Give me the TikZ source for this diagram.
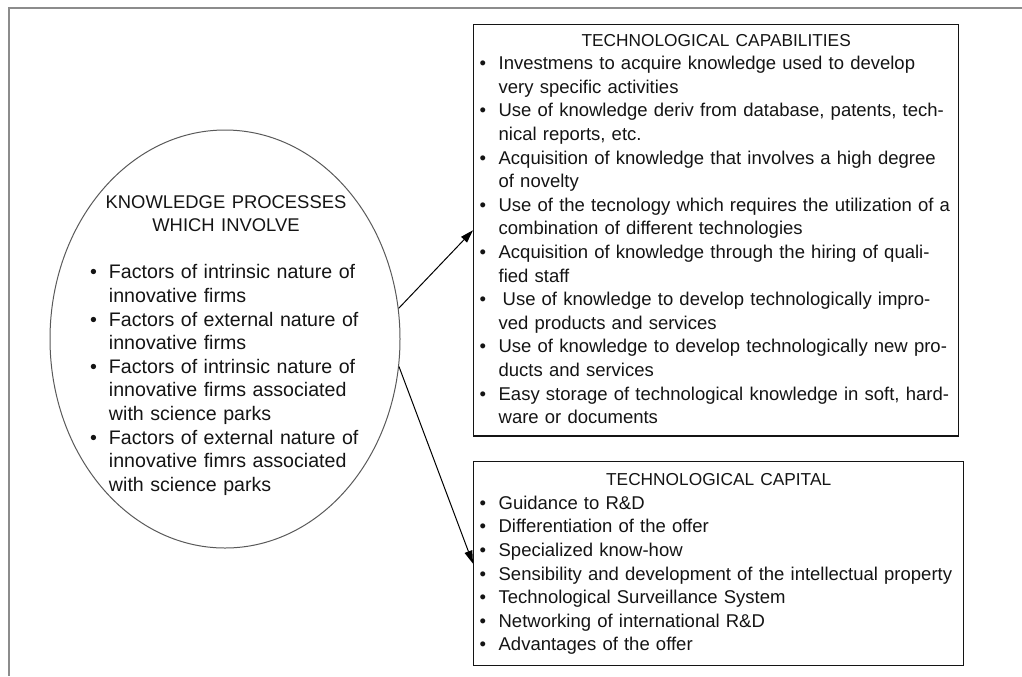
\documentclass[tikz,border=0pt]{standalone}
\usepackage{fontspec}
\setmainfont{Liberation Sans}
\usepackage{xcolor}
\usepackage{tikz}
\usetikzlibrary{positioning,arrows.meta,shapes.geometric}

\definecolor{framegray}{HTML}{8C8C8C}
\definecolor{inkgray}{HTML}{141414}
\newcommand{\bl}{\makebox[9.5pt][l]{\textbullet}}
\newcommand{\cont}{\hspace*{9.5pt}}
\newcommand{\boxtitle}[1]{\makebox[\linewidth]{\fontsize{8.65}{11.8}\selectfont\strut #1}}

\begin{document}
\begin{tikzpicture}[x=0.5pt, y=-0.5pt,
  box/.style={draw=inkgray, line width=0.65pt, anchor=north west, align=left, inner xsep=3pt, text=inkgray, font=\fontsize{9.25}{11.8}\selectfont},
  kpshape/.style={draw=black!65, line width=0.5pt, ellipse, minimum width=175pt, minimum height=209pt, inner sep=0pt},
  kplist/.style={align=left, text width=136pt, inner sep=0pt, text=inkgray, font=\fontsize{9.8}{11.8}\selectfont},
  arr/.style={-{Triangle[length=6.5pt, width=4pt]}, line width=0.5pt}]
  \useasboundingbox (0,0) rectangle (1022,676);
  \draw[framegray, line width=1pt] (1022,8) -- (9,8) -- (9,676);
  \node[kpshape] (kp) at (225,339) {};
  \node[kplist] (kptext) at (226,345) {\makebox[\linewidth]{\fontsize{9.2}{11.8}\selectfont\strut KNOWLEDGE PROCESSES}\\ \makebox[\linewidth]{\fontsize{9.2}{11.8}\selectfont WHICH INVOLVE}\\ \strut\\ \bl Factors of intrinsic nature of\\ \cont innovative firms\\ \bl Factors of external nature of\\ \cont innovative firms\\ \bl Factors of intrinsic nature of\\ \cont innovative firms associated\\ \cont with science parks\\ \bl Factors of external nature of\\ \cont innovative fimrs associated\\ \cont with science parks\strut};
  \node[box, inner ysep=2.5pt, text width=236.5pt] (capab) at (473,24) {\boxtitle{TECHNOLOGICAL CAPABILITIES}\\ \bl Investmens to acquire knowledge used to develop\\ \cont very specific activities\\ \bl Use of knowledge deriv from database, patents, tech-\\ \cont nical reports, etc.\\ \bl Acquisition of knowledge that involves a high degree\\ \cont of novelty\\ \bl Use of the tecnology which requires the utilization of a\\ \cont combination of different technologies\\ \bl Acquisition of knowledge through the hiring of quali-\\ \cont fied staff\\ \bl\hspace{2pt}Use of knowledge to develop technologically impro-\\ \cont ved products and services\\ \bl Use of knowledge to develop technologically new pro-\\ \cont ducts and services\\ \bl Easy storage of technological knowledge in soft, hard-\\ \cont ware or documents\strut};
  \node[box, inner ysep=3.8pt, text width=239pt] (capital) at (473,461) {\boxtitle{TECHNOLOGICAL CAPITAL}\\ \bl Guidance to R\&D\\ \bl Differentiation of the offer\\ \bl Specialized know-how\\ \bl Sensibility and development of the intellectual property\\ \bl Technological Surveillance System\\ \bl Networking of international R\&D\\ \bl Advantages of the offer\strut};
  \draw[arr] (kp.10) -- (capab.west);
  \draw[arr] (kp.-9) -- (capital.west);
\end{tikzpicture}
\end{document}
